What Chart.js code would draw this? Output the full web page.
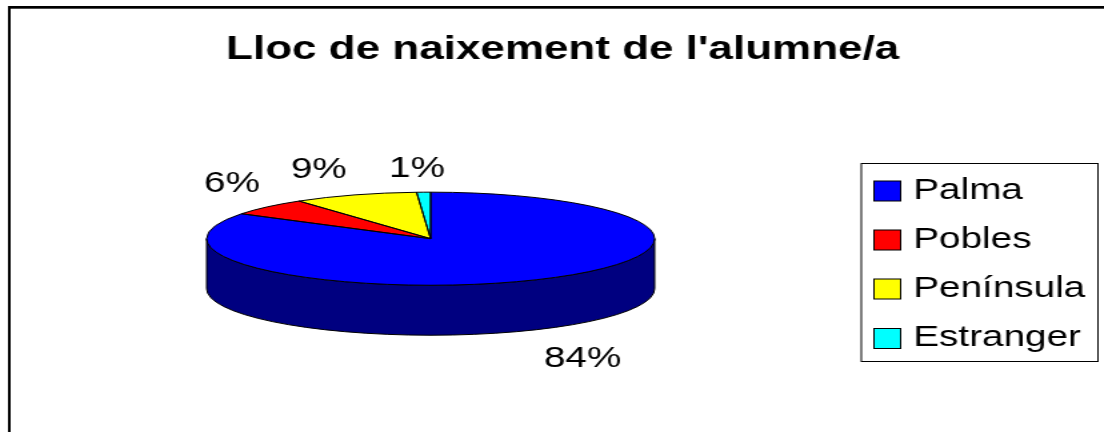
<!DOCTYPE html>
<html><head><meta charset="utf-8">
<style>html,body{margin:0;padding:0;background:#fff;overflow:hidden}
#wrap{width:828px;height:432px;transform:scaleX(1.3333);transform-origin:0 0}</style>
<script src="https://cdn.jsdelivr.net/npm/chart.js@4"></script>
</head><body><div id="wrap"><canvas id="c" width="828" height="432"></canvas></div>
<script>
const categories = ['Palma','Pobles','Península','Estranger'];
const values = [84,6,9,1];
const percentLabels = ['84%','6%','9%','1%'];
const titleText = "Lloc de naixement de l'alumne/a";
const colors = ['#0000ff','#ff0000','#ffff00','#00ffff'];
const sideColors = ['#000080','#800000','#808000','#008080'];

const FONT = '"Liberation Sans", Arial, sans-serif';
const CX = 323, CY = 238.7, SY = 0.277, DEPTH = 50;
const labelNudge = [[33,30],[-26.5,-23],[-27,-25],[-5,-23]];

function arcs(chart){ return chart.getDatasetMeta(0).data; }
function toPie(ctx, el){ ctx.translate(CX, CY); ctx.scale(1, SY); ctx.translate(-el.x, -el.y); }

const frame = {
  id:'frame',
  beforeDatasetsDraw(chart){
    const ctx = chart.ctx;
    ctx.save();
    ctx.fillStyle='#000';
    ctx.fillRect(6,6,822,2.7);
    ctx.fillRect(6,6,2,426);
    ctx.restore();
    // side wall: the lower-half part of each slice's rim
    arcs(chart).forEach((el,i)=>{
      const R=el.outerRadius, s=el.startAngle, e=el.endAngle;
      for(const k of [0,2*Math.PI]){
        const p=Math.max(s,k), q=Math.min(e,k+Math.PI);
        if(q<=p) continue;
        ctx.save();
        ctx.beginPath();
        ctx.ellipse(CX,CY,R,R*SY,0,p,q,false);
        ctx.ellipse(CX,CY+DEPTH,R,R*SY,0,q,p,true);
        ctx.closePath();
        ctx.fillStyle=sideColors[i];
        ctx.fill();
        ctx.strokeStyle='#000'; ctx.lineWidth=1;
        ctx.stroke();
        ctx.restore();
      }
    });
    ctx.save();
    toPie(ctx,arcs(chart)[0]);
  },
  afterDatasetsDraw(chart){
    const ctx=chart.ctx;
    ctx.restore();
    // slice outlines
    arcs(chart).forEach(el=>{
      ctx.save();
      ctx.beginPath();
      ctx.moveTo(CX,CY);
      ctx.ellipse(CX,CY,el.outerRadius,el.outerRadius*SY,0,el.startAngle,el.endAngle,false);
      ctx.closePath();
      ctx.strokeStyle='#000'; ctx.lineWidth=1;
      ctx.stroke();
      ctx.restore();
    });
    // percent labels
    ctx.save();
    ctx.font='29px '+FONT; ctx.fillStyle='#000';
    ctx.textAlign='center'; ctx.textBaseline='middle';
    arcs(chart).forEach((el,i)=>{
      const m=(el.startAngle+el.endAngle)/2, R=el.outerRadius;
      const x=CX+R*Math.cos(m), y=CY+R*SY*Math.sin(m)+(Math.sin(m)>0?DEPTH:0);
      ctx.fillText(percentLabels[i],x+labelNudge[i][0],y+labelNudge[i][1]);
    });
    ctx.restore();
    // legend
    ctx.save();
    ctx.fillStyle='#fff'; ctx.strokeStyle='#000'; ctx.lineWidth=1;
    ctx.fillRect(646,163.5,177.5,198); ctx.strokeRect(646,163.5,177.5,198);
    ctx.font='29px '+FONT; ctx.textBaseline='middle'; ctx.textAlign='left';
    const rows=[191,240,289,338.5];
    categories.forEach((t,i)=>{
      ctx.fillStyle=colors[i];
      ctx.fillRect(655.5,rows[i]-10,20,20);
      ctx.strokeStyle='#000'; ctx.strokeRect(655.5,rows[i]-10,20,20);
      ctx.fillStyle='#000';
      ctx.fillText(t,685,rows[i]-0.5);
    });
    ctx.restore();
  }
};

new Chart(document.getElementById('c'),{
  type:'pie',
  data:{labels:categories,datasets:[{data:values,backgroundColor:colors,borderWidth:0,clip:false}]},
  options:{
    responsive:false,animation:false,devicePixelRatio:1,
    radius:168,
    layout:{padding:{left:16,right:0,top:0,bottom:0}},
    plugins:{
      legend:{display:false},
      tooltip:{enabled:false},
      title:{display:true,text:titleText,color:'#000',align:'center',
        font:{family:FONT,size:33,weight:'bold'},padding:{top:30,bottom:20}}
    }
  },
  plugins:[frame]
});
</script></body></html>
